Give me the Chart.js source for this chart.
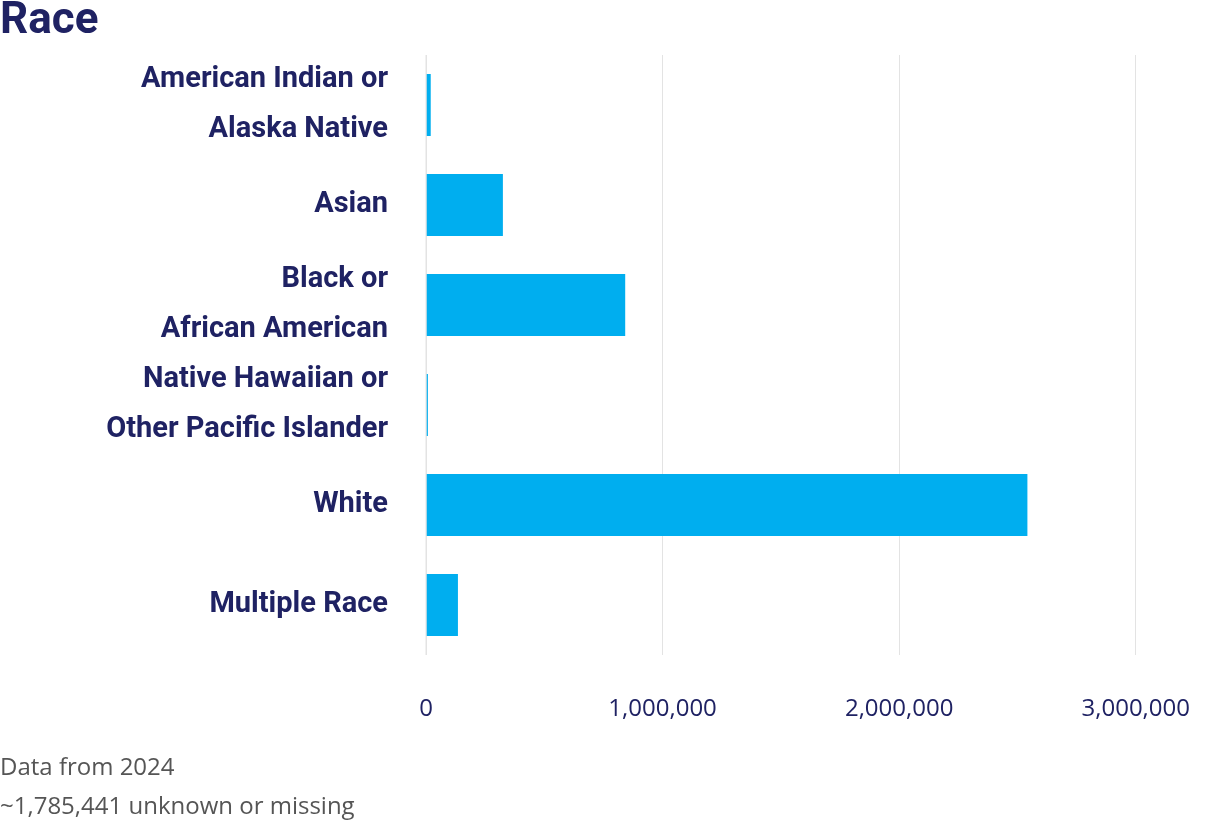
<!DOCTYPE html>
<html>
<head>
<meta charset="utf-8">
<script src="https://cdn.jsdelivr.net/npm/chart.js@4"></script>
<style>
  body { margin: 0; background: #fff; }
  #wrap { position: relative; width: 1230px; height: 821px; }
  #title { position: absolute; left: 0; top: -8px; font: bold 44px "Roboto", sans-serif; color: #1f2263; }
  #foot { position: absolute; left: 0; top: 746px; font: 24px "Open Sans", sans-serif; color: #555; line-height: 39px; }
  canvas { position: absolute; left: 0; top: 0; }
</style>
</head>
<body>
<div id="wrap">
  <canvas id="chart" width="1230" height="821"></canvas>
  <div id="title">Race</div>
  <div id="foot">Data from 2024<br>~1,785,441 unknown or missing</div>
</div>
<script>
// categories (multi-line labels) and values
var categories = [
    ['American Indian or', 'Alaska Native'],
    'Asian',
    ['Black or', 'African American'],
    ['Native Hawaiian or', 'Other Pacific Islander'],
    'White',
    'Multiple Race'
];
var counts = [20000, 325000, 842000, 8000, 2542000, 135000];
var tickValues = [0, 1000000, 2000000, 3000000];

const ctx = document.getElementById('chart');
var chart = new Chart(ctx, {
    type: 'bar',
    data: {
        labels: categories,
        datasets: [{
            data: counts,
            backgroundColor: '#00aeef',
            barPercentage: 0.62,
            categoryPercentage: 1
        }]
    },
    options: {
        indexAxis: 'y',
        responsive: false,
        animation: false,
        layout: { padding: { top: 55, right: 51, bottom: 86, left: 0 } },
        plugins: { legend: { display: false }, tooltip: { enabled: false } },
        scales: {
            x: {
                min: 0, max: 3000000,
                afterBuildTicks: s => { s.ticks = tickValues.map(v => ({ value: v })); },
                afterFit: s => { s.height = 80; },
                grid: { color: '#e3e3e3', drawTicks: false },
                border: { display: false },
                ticks: {
                    padding: 40,
                    color: '#1f2263',
                    font: { family: 'Open Sans', size: 24 },
                    callback: v => v.toLocaleString('en-US')
                }
            },
            y: {
                afterFit: s => { s.width = 426; },
                grid: { display: false },
                border: { display: false },
                ticks: {
                    autoSkip: false,
                    padding: 30,
                    color: '#1f2263',
                    font: { family: 'Roboto', size: 29, weight: 'bold', lineHeight: 1.72 }
                }
            }
        }
    },
    plugins: [{
        id: 'zeroLine',
        afterDatasetsDraw(c) {
            var x = c.scales.x.getPixelForValue(0);
            var g = c.ctx;
            g.save();
            g.strokeStyle = '#e3e3e3';
            g.beginPath();
            g.moveTo(x, c.chartArea.top);
            g.lineTo(x, c.chartArea.bottom);
            g.stroke();
            g.restore();
        }
    }]
});
</script>
</body>
</html>
